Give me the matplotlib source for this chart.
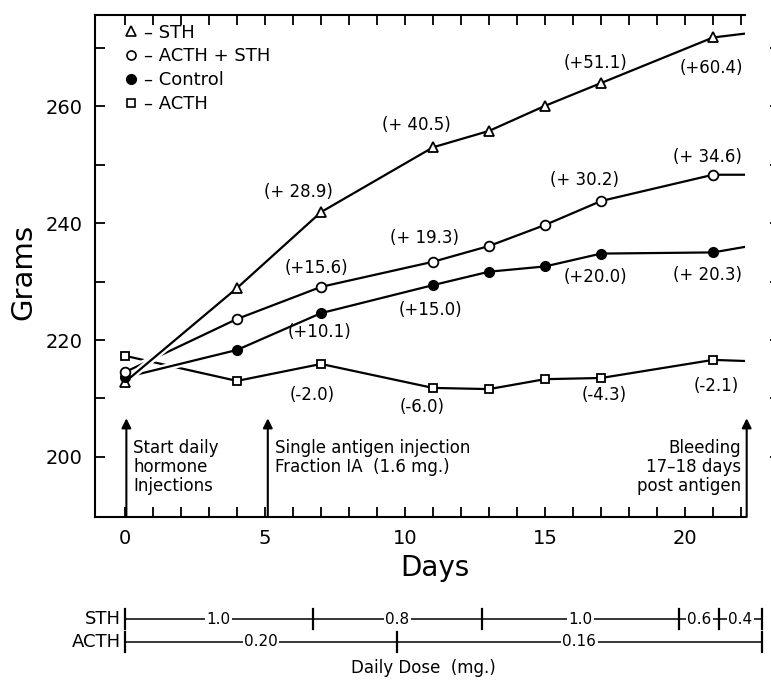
import matplotlib
matplotlib.use("Agg")
import matplotlib.pyplot as plt
import matplotlib.transforms as mtransforms
import matplotlib.patheffects as pe
from matplotlib.lines import Line2D

plt.rcParams["font.family"] = "DejaVu Sans"

# days on which the rats were weighed
days = [0, 4, 7, 11, 13, 15, 17, 21]
end_day = 22.2  # lines run on to the right edge

sth = [212.8, 228.9, 241.9, 253.0, 255.8, 260.1, 264.0, 271.8]
acth_sth = [214.5, 223.6, 229.1, 233.4, 236.1, 239.7, 243.8, 248.3]
control = [213.6, 218.3, 224.6, 229.4, 231.7, 232.6, 234.8, 235.0]
acth = [217.3, 213.0, 215.9, 211.8, 211.6, 213.3, 213.5, 216.6]
end_values = {"sth": 272.5, "acth_sth": 248.3, "control": 236.0, "acth": 216.4}

# weight-gain labels
ann_text = ["(+ 28.9)", "(+ 40.5)", "(+51.1)", "(+60.4)",
            "(+15.6)", "(+ 19.3)", "(+ 30.2)", "(+ 34.6)",
            "(+10.1)", "(+15.0)", "(+20.0)", "(+ 20.3)",
            "(-2.0)", "(-6.0)", "(-4.3)", "(-2.1)"]
ann_day = [6.2, 10.4, 16.8, 20.95,
           6.85, 10.7, 16.4, 20.8,
           6.95, 10.9, 16.8, 20.8,
           6.7, 10.6, 17.1, 21.1]
ann_gram = [245.3, 256.8, 267.4, 266.6,
            232.3, 237.5, 247.4, 251.3,
            221.4, 225.1, 230.8, 231.1,
            210.6, 208.5, 210.6, 212.1]

# daily dose schedule (segment boundaries in days)
sth_bounds = [0, 6.7, 12.75, 19.8, 21.2, 22.75]
sth_doses = ["1.0", "0.8", "1.0", "0.6", "0.4"]
acth_bounds = [0, 9.7, 22.75]
acth_doses = ["0.20", "0.16"]

W, H = 771, 689
fig = plt.figure(figsize=(W / 100, H / 100), dpi=100)
ax = fig.add_axes([95 / W, 1 - 517 / H, 650 / W, 502 / H])

halo = [pe.Stroke(linewidth=5, foreground="white"), pe.Normal()]

# ACTH goes underneath, the others cut it where they cross
ax.plot(days + [end_day], acth + [end_values["acth"]], color="black", lw=1.6, zorder=2)
ax.plot(days + [end_day], control + [end_values["control"]], color="black", lw=1.6,
        zorder=3, path_effects=halo)
ax.plot(days + [end_day], acth_sth + [end_values["acth_sth"]], color="black", lw=1.6,
        zorder=3, path_effects=halo)
ax.plot(days + [end_day], sth + [end_values["sth"]], color="black", lw=1.6,
        zorder=3, path_effects=halo)

ax.plot(days, sth, ls="none", marker="^", ms=7.5, mfc="white", mec="black", mew=1.3, zorder=5)
ax.plot(days, control, ls="none", marker="o", ms=7, mfc="black", mec="black", zorder=6)
ax.plot(days, acth_sth, ls="none", marker="o", ms=7, mfc="white", mec="black", mew=1.3, zorder=7)
ax.plot(days, acth, ls="none", marker="s", ms=6, mfc="white", mec="black", mew=1.3, zorder=8)

for s, x, y in zip(ann_text, ann_day, ann_gram):
    ax.text(x, y, s, ha="center", va="center", fontsize=12, zorder=9)

# arrows
arrow_props = dict(arrowstyle="-|>", color="black", lw=1.5, mutation_scale=14, shrinkA=0, shrinkB=0)
y_bottom, y_top = 189.7, 275.65
for xd in [0.05, 5.1, 22.2]:
    ax.annotate("", xy=(xd, 206.6), xytext=(xd, y_bottom), arrowprops=arrow_props,
                annotation_clip=False, zorder=4)

ax.text(0.3, 203.0, "Start daily\nhormone\nInjections", ha="left", va="top",
        fontsize=12, linespacing=1.05)
ax.text(5.35, 203.0, "Single antigen injection\nFraction IA  (1.6 mg.)", ha="left", va="top",
        fontsize=12, linespacing=1.05)
ax.text(22.0, 203.0, "Bleeding\n17–18 days\npost antigen", ha="right", va="top",
        fontsize=12, linespacing=1.05)

# legend
handles = [
    Line2D([], [], ls="none", marker="^", ms=7, mfc="white", mec="black", mew=1.2),
    Line2D([], [], ls="none", marker="o", ms=6.5, mfc="white", mec="black", mew=1.2),
    Line2D([], [], ls="none", marker="o", ms=7, mfc="black", mec="black"),
    Line2D([], [], ls="none", marker="s", ms=6, mfc="white", mec="black", mew=1.2),
]
labels = ["– STH", "– ACTH + STH", "– Control", "– ACTH"]
ax.legend(handles, labels, loc="upper left", bbox_to_anchor=(0.02, 1.015), frameon=False,
          fontsize=13, handlelength=0.8, handletextpad=0.3, labelspacing=0.32)

# axes styling
ax.set_xlim(-1.07, 22.14)
ax.set_ylim(y_bottom, y_top)
ax.set_xticks([0, 5, 10, 15, 20])
ax.set_xticks(range(0, 23), minor=True)
ax.set_yticks([200, 220, 240, 260])
ax.set_yticks([200, 210, 220, 230, 240, 250, 260, 270], minor=True)
ax.tick_params(axis="both", which="both", direction="in", length=7, width=1.3,
               labelsize=14, pad=9)
ax.tick_params(axis="x", which="both", top=True)
ax.tick_params(axis="y", which="both", right=True)
for side in ["left", "top", "bottom"]:
    ax.spines[side].set_linewidth(1.5)
ax.spines["right"].set_position(("outward", 25))
ax.spines["right"].set_visible(False)

fig.text(23 / W, 1 - 272 / H, "Grams", rotation=90, ha="center", va="center", fontsize=21)
fig.text(435 / W, 1 - 568 / H, "Days", ha="center", va="center", fontsize=20)

# dose schedule below the chart
trans = mtransforms.blended_transform_factory(ax.transData, fig.transFigure)
tick_h = 10 / H
for name, y_px, bounds, doses in [("STH", 619, sth_bounds, sth_doses),
                                  ("ACTH", 642, acth_bounds, acth_doses)]:
    y = 1 - y_px / H
    ax.plot([bounds[0], bounds[-1]], [y, y], color="black", lw=1.1, transform=trans, clip_on=False)
    for b in bounds:
        ax.plot([b, b], [y - tick_h, y + tick_h], color="black", lw=1.6,
                transform=trans, clip_on=False)
    for i, d in enumerate(doses):
        mid = (bounds[i] + bounds[i + 1]) / 2
        ax.text(mid, y, d, ha="center", va="center", fontsize=11, transform=trans,
                bbox=dict(fc="white", ec="none", pad=1.0), clip_on=False)
    fig.text(121 / W, y, name, ha="right", va="center", fontsize=13)

fig.text(423 / W, 1 - 668 / H, "Daily Dose  (mg.)", ha="center", va="center", fontsize=12)

ax.set_xlim(-1.07, 22.14)
ax.set_ylim(y_bottom, y_top)

fig.savefig("out.png", dpi=100)
